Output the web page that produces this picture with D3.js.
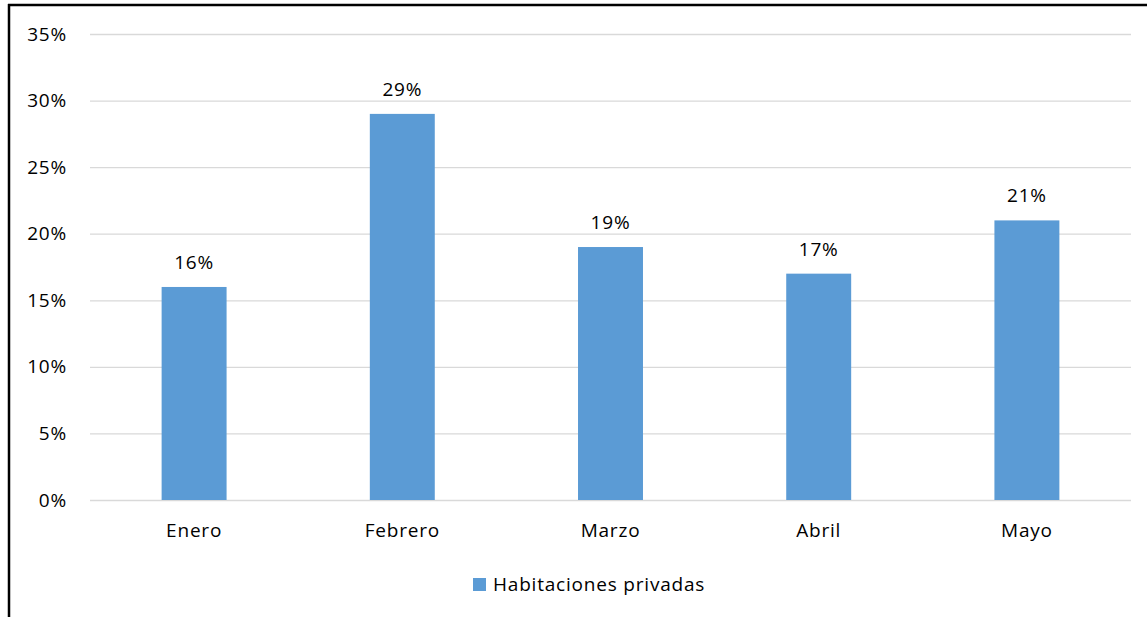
<!DOCTYPE html>
<html>
<head>
<meta charset="utf-8">
<script src="https://cdn.jsdelivr.net/npm/d3@7"></script>
<style>
  html, body { margin: 0; padding: 0; background: #fff; }
  svg { display: block; }
  text { font-family: "Open Sans", "Noto Sans", sans-serif; fill: #000; letter-spacing: 0.8px; }
</style>
</head>
<body>
<svg id="chart" width="1147" height="617"></svg>
<script>
// Monthly share of private rooms
const months = ["Enero", "Febrero", "Marzo", "Abril", "Mayo"];
const privateRooms = [16, 29, 19, 17, 21];
const yTicks = [0, 5, 10, 15, 20, 25, 30, 35];
const seriesName = "Habitaciones privadas";

const svg = d3.select("#chart");
const W = 1147, H = 617;
const margin = { left: 90, right: 16, top: 34, bottom: 117 };
const fontSize = 19;

const x = d3.scaleBand()
  .domain(months)
  .range([margin.left, W - margin.right])
  .paddingInner(0.688)
  .paddingOuter(0.344);

const y = d3.scaleLinear()
  .domain([0, 35])
  .range([H - margin.bottom, margin.top]);

// frame lines of the chart area
svg.append("line")
  .attr("x1", 8).attr("x2", W).attr("y1", 5).attr("y2", 5)
  .attr("stroke", "#000").attr("stroke-width", 2.5);
svg.append("line")
  .attr("x1", 9).attr("x2", 9).attr("y1", 4).attr("y2", H)
  .attr("stroke", "#000").attr("stroke-width", 2.5);

// horizontal gridlines and y tick labels
const yAxis = d3.axisLeft(y)
  .tickValues(yTicks)
  .tickSize(-(W - margin.left - margin.right))
  .tickPadding(23)
  .tickFormat(d => d + "%");

const gy = svg.append("g")
  .attr("transform", `translate(${margin.left},0)`)
  .call(yAxis);
gy.select(".domain").remove();
gy.selectAll(".tick line").attr("stroke", "#d9d9d9").attr("stroke-width", 1.3);
gy.selectAll(".tick text")
  .attr("font-size", fontSize)
  .attr("font-family", "\"Open Sans\", sans-serif")
  .attr("fill", "#000");

// bars
svg.append("g").selectAll("rect")
  .data(months)
  .join("rect")
  .attr("x", d => x(d))
  .attr("width", x.bandwidth())
  .attr("y", (d, i) => y(privateRooms[i]))
  .attr("height", (d, i) => y(0) - y(privateRooms[i]))
  .attr("fill", "#5b9bd5");

// value labels
svg.append("g").selectAll("text")
  .data(months)
  .join("text")
  .attr("x", d => x(d) + x.bandwidth() / 2)
  .attr("y", (d, i) => y(privateRooms[i]) - 18)
  .attr("text-anchor", "middle")
  .attr("font-size", fontSize)
  .text((d, i) => privateRooms[i] + "%");

// category axis labels
const xAxis = d3.axisBottom(x).tickSize(0).tickPadding(24);
const gx = svg.append("g")
  .attr("transform", `translate(0,${y(0)})`)
  .call(xAxis);
gx.select(".domain").remove();
gx.selectAll(".tick text")
  .attr("font-size", fontSize)
  .attr("font-family", "\"Open Sans\", sans-serif")
  .attr("fill", "#000");

// legend
const legend = svg.append("g").attr("transform", "translate(473,578)");
legend.append("rect")
  .attr("width", 13).attr("height", 13)
  .attr("fill", "#5b9bd5");
legend.append("text")
  .attr("x", 20).attr("y", 6.5)
  .attr("dy", "0.35em")
  .attr("font-size", fontSize)
  .text(seriesName);
</script>
</body>
</html>
